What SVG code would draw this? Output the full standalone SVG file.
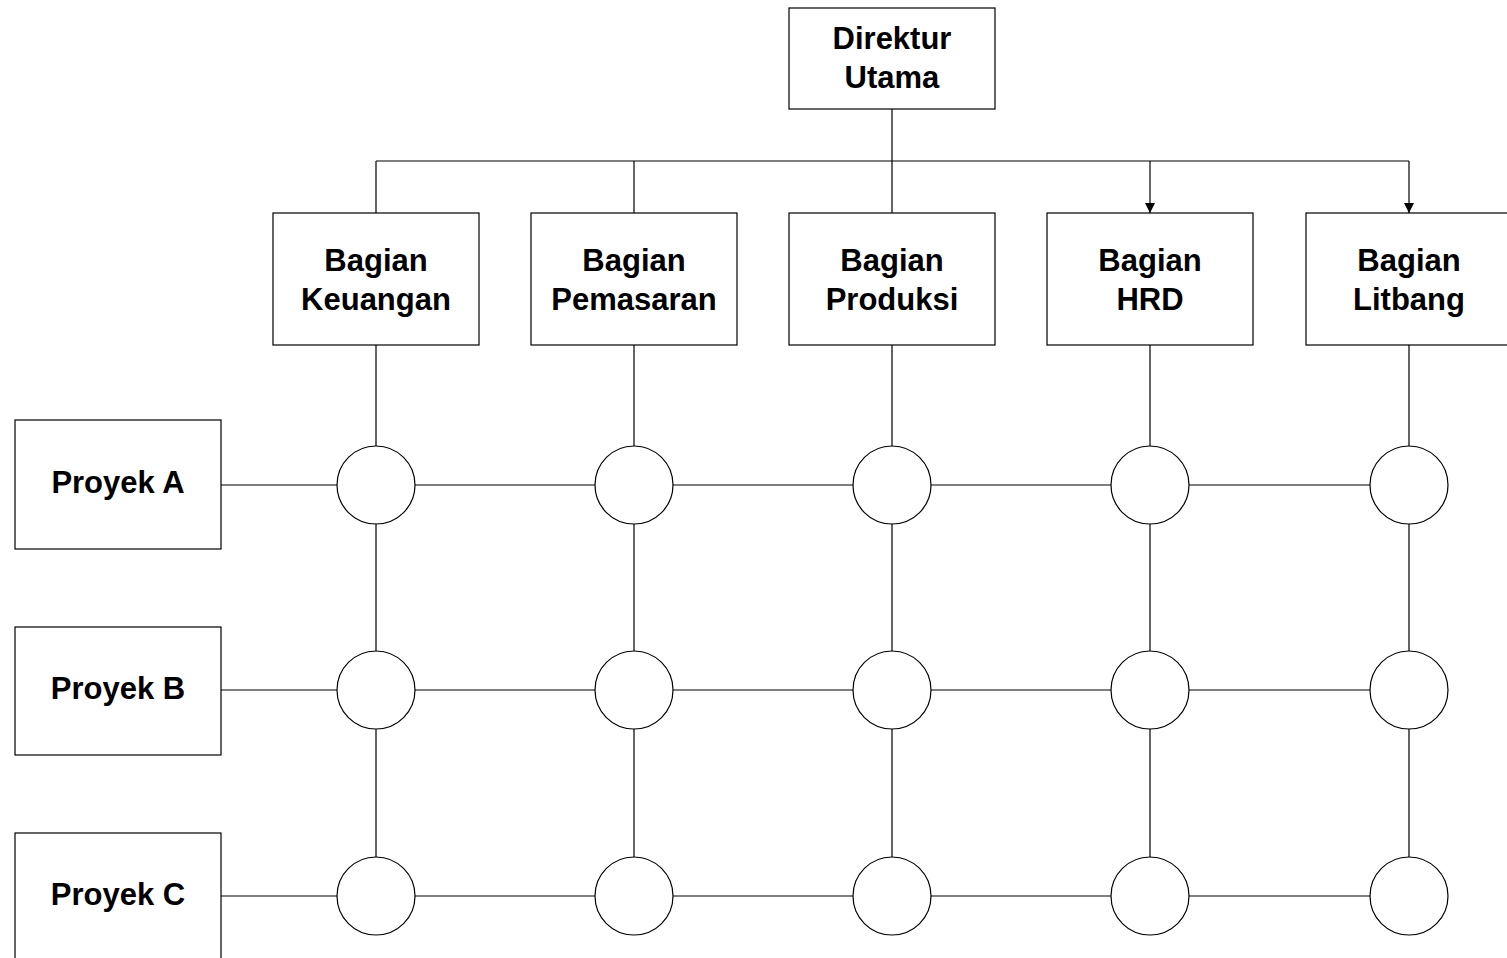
<svg xmlns="http://www.w3.org/2000/svg" width="1507" height="958" viewBox="0 0 1507 958">
<defs>
<style>
.box{fill:#fff;stroke:#000;stroke-width:1.2}
.c{fill:#fff;stroke:#000;stroke-width:1.2}
.ln{fill:none;stroke:#000;stroke-width:1.2}
text{font-family:"Liberation Sans",Arial,sans-serif;font-weight:bold;font-size:31px;text-anchor:middle;fill:#000}
</style>
<marker id="arr" viewBox="0 0 10 10" refX="10" refY="5" markerWidth="10" markerHeight="10" markerUnits="userSpaceOnUse" orient="auto">
<path d="M0,0 L10,5 L0,10 z" fill="#000"/>
</marker>
</defs>
<rect width="1507" height="958" fill="#fff"/>
<g id="connectors">
<path class="ln" d="M892,109 V213"/>
<path class="ln" d="M376,161 H1409"/>
<path class="ln" d="M376,161 V213"/>
<path class="ln" d="M634,161 V213"/>
<path class="ln" d="M1150,161 V213" marker-end="url(#arr)"/>
<path class="ln" d="M1409,161 V213" marker-end="url(#arr)"/>
<path class="ln" d="M376,345 V896 M634,345 V896 M892,345 V896 M1150,345 V896 M1409,345 V896"/>
<path class="ln" d="M221,485 H1409 M221,690 H1409 M221,896 H1409"/>
</g>
<g id="direktur"><rect class="box" x="789" y="8" width="206" height="101"/><text x="892" y="49">Direktur</text><text x="892" y="88">Utama</text></g>
<g id="keuangan"><rect class="box" x="273" y="213" width="206" height="132"/><text x="376" y="271">Bagian</text><text x="376" y="310">Keuangan</text></g>
<g id="pemasaran"><rect class="box" x="531" y="213" width="206" height="132"/><text x="634" y="271">Bagian</text><text x="634" y="310">Pemasaran</text></g>
<g id="produksi"><rect class="box" x="789" y="213" width="206" height="132"/><text x="892" y="271">Bagian</text><text x="892" y="310">Produksi</text></g>
<g id="hrd"><rect class="box" x="1047" y="213" width="206" height="132"/><text x="1150" y="271">Bagian</text><text x="1150" y="310">HRD</text></g>
<g id="litbang"><rect class="box" x="1306" y="213" width="206" height="132"/><text x="1409" y="271">Bagian</text><text x="1409" y="310">Litbang</text></g>
<g id="proyekA"><rect class="box" x="15" y="420" width="206" height="129"/><text x="118" y="493">Proyek A</text></g>
<g id="proyekB"><rect class="box" x="15" y="627" width="206" height="128"/><text x="118" y="699">Proyek B</text></g>
<g id="proyekC"><rect class="box" x="15" y="833" width="206" height="129"/><text x="118" y="905">Proyek C</text></g>
<g id="nodes">
<circle class="c" cx="376" cy="485" r="39"/><circle class="c" cx="634" cy="485" r="39"/><circle class="c" cx="892" cy="485" r="39"/><circle class="c" cx="1150" cy="485" r="39"/><circle class="c" cx="1409" cy="485" r="39"/>
<circle class="c" cx="376" cy="690" r="39"/><circle class="c" cx="634" cy="690" r="39"/><circle class="c" cx="892" cy="690" r="39"/><circle class="c" cx="1150" cy="690" r="39"/><circle class="c" cx="1409" cy="690" r="39"/>
<circle class="c" cx="376" cy="896" r="39"/><circle class="c" cx="634" cy="896" r="39"/><circle class="c" cx="892" cy="896" r="39"/><circle class="c" cx="1150" cy="896" r="39"/><circle class="c" cx="1409" cy="896" r="39"/>
</g>
</svg>
